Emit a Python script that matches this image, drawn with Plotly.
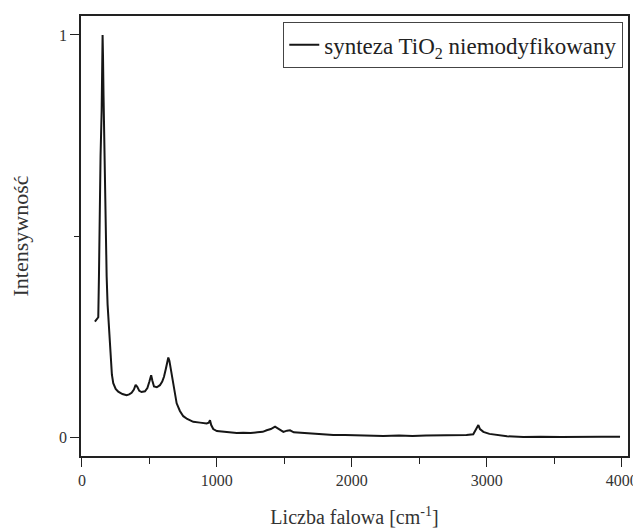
import plotly.graph_objects as go

wavenumber = [96, 110, 121, 126, 130, 138, 146, 150, 153, 156, 160, 165, 170, 176, 183, 190, 195, 205, 213, 222,
              232, 250, 269, 300, 331, 350, 368, 385, 398, 410, 425, 442, 467, 485, 500, 513, 522, 534, 555, 578,
              595, 608, 622, 632, 640, 648, 657, 665, 680, 689, 702, 726, 751, 780, 801, 825, 875, 924, 940, 949,
              958, 973, 1000, 1047, 1100, 1147, 1196, 1250, 1300, 1340, 1369, 1400, 1431, 1460, 1493, 1520, 1542,
              1570, 1616, 1700, 1800, 1863, 1950, 2050, 2150, 2234, 2350, 2450, 2550, 2650, 2750, 2850, 2900,
              2925, 2938, 2950, 2975, 3020, 3074, 3150, 3271, 3400, 3550, 3700, 3850, 3988]
intensity = [0.287, 0.292, 0.298, 0.40, 0.56, 0.70, 0.81, 0.93, 1.0, 0.95, 0.85, 0.75, 0.58, 0.47, 0.40, 0.33,
             0.30, 0.23, 0.19, 0.155, 0.134, 0.120, 0.113, 0.107, 0.104, 0.106, 0.110, 0.118, 0.130, 0.125,
             0.115, 0.112, 0.114, 0.122, 0.138, 0.154, 0.140, 0.126, 0.124, 0.129, 0.138, 0.150, 0.170, 0.188,
             0.198, 0.190, 0.172, 0.158, 0.118, 0.104, 0.084, 0.065, 0.052, 0.045, 0.042, 0.038, 0.036, 0.034,
             0.036, 0.042, 0.030, 0.020, 0.015, 0.013, 0.011, 0.010, 0.011, 0.010, 0.012, 0.013, 0.017, 0.020,
             0.026, 0.020, 0.013, 0.016, 0.017, 0.012, 0.011, 0.009, 0.006, 0.005, 0.005, 0.004, 0.003, 0.003,
             0.004, 0.003, 0.004, 0.004, 0.004, 0.005, 0.007, 0.020, 0.030, 0.020, 0.013, 0.008, 0.005, 0.002,
             0.000, 0.001, 0.000, 0.001, 0.001, 0.001]

series_name = "synteza TiO<sub>2</sub> niemodyfikowany"
x_ticks = [0, 1000, 2000, 3000, 4000]
y_ticks = [0, 1]

FONT = "Liberation Serif, Times New Roman, serif"

fig = go.Figure()
fig.add_trace(go.Scatter(x=wavenumber, y=intensity, mode="lines", name=series_name,
                         line=dict(color="#161616", width=2), showlegend=True))

axis_common = dict(showline=True, linecolor="#222", linewidth=1.5, mirror=True,
                   ticks="outside", tickcolor="#222", tickwidth=1.3,
                   showgrid=False, zeroline=False, automargin=False,
                   tickfont=dict(family=FONT, size=16, color="#333"))

# page body has an 8px default margin; figure is sized/offset to compensate
fig.update_layout(
    width=633, height=520,
    margin=dict(l=73, r=13, t=8, b=72),
    paper_bgcolor="white", plot_bgcolor="white",
    font=dict(family=FONT, color="#333"),
    xaxis=dict(range=[-7, 4047], tickvals=x_ticks, ticklen=9,
               minor=dict(dtick=500, tick0=0, ticklen=6, ticks="outside", tickcolor="#222", tickwidth=1.3),
               title=dict(text="Liczba falowa [cm<sup>-1</sup>]", font=dict(family=FONT, size=20, color="#333"),
                          standoff=23),
               **axis_common),
    yaxis=dict(range=[-0.047, 1.047], tickvals=y_ticks, ticklen=9,
               minor=dict(dtick=0.5, tick0=0, ticklen=5, ticks="outside", tickcolor="#222", tickwidth=1.3),
               title=dict(text="Intensywność", font=dict(family=FONT, size=22, color="#333"), standoff=25),
               **axis_common),
    legend=dict(x=0.991, y=0.986, xanchor="right", yanchor="top",
                bgcolor="white", bordercolor="#444", borderwidth=1.2,
                font=dict(family=FONT, size=23, color="#222")),
)

fig.write_html("out.html")
